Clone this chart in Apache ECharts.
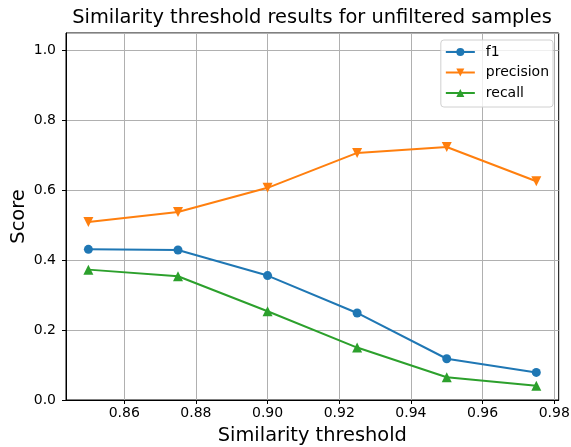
<!DOCTYPE html>
<html>
<head>
<meta charset="utf-8">
<script src="https://cdn.jsdelivr.net/npm/echarts@6/dist/echarts.min.js"></script>
<style>html,body{margin:0;padding:0;background:#fff;}#c{width:571px;height:447px;}</style>
</head>
<body>
<div id="c"></div>
<script>
const thresholds = [0.85, 0.875, 0.90, 0.925, 0.95, 0.975];
const f1 = [0.431, 0.429, 0.356, 0.249, 0.118, 0.079];
const precision = [0.509, 0.538, 0.607, 0.707, 0.724, 0.626];
const recall = [0.373, 0.354, 0.254, 0.150, 0.065, 0.041];
const xTicks = [0.86, 0.88, 0.90, 0.92, 0.94, 0.96, 0.98];
const yTicks = [0.0, 0.2, 0.4, 0.6, 0.8, 1.0];

const FONT = 'DejaVu Sans';
function pairs(ys){ return thresholds.map((x,i)=>[x, ys[i]]); }
function mk(name, ys, color, symbol, rotate){
  return {
    name, type:'line', data: pairs(ys), color,
    symbol, symbolSize: symbol==='circle'?9:10, symbolRotate: rotate||0,
    lineStyle:{width:2, color}, itemStyle:{color},
    emphasis:{disabled:true}, animation:false
  };
}
const chart = echarts.init(document.getElementById('c'), null, {renderer:'canvas'});
chart.setOption({
  animation:false,
  textStyle:{fontFamily:FONT},
  title:{text:'Similarity threshold results for unfiltered samples', left:312, textAlign:'center', top:8, padding:0,
    textStyle:{fontFamily:FONT, fontSize:19.4, fontWeight:'normal', color:'#000'}},
  grid:{left:66, right:12.3, top:33, bottom:47, containLabel:false, outerBoundsMode:'none',
    show:true, borderColor:'#000', borderWidth:1, backgroundColor:'transparent'},
  legend:{orient:'vertical', right:18, top:40, itemWidth:29, itemHeight:10, itemGap:6.5,
    padding:[5,4,7,4], borderColor:'#d0d0d0', borderWidth:1, borderRadius:3, backgroundColor:'rgba(255,255,255,0.8)',
    textStyle:{fontFamily:FONT, fontSize:14, color:'#000', padding:[0,0,0,6]},
    data:['f1','precision','recall']},
  xAxis:{type:'value', min:0.84375, max:0.98125,
    name:'Similarity threshold', nameLocation:'middle', nameGap:26, nameMoveOverlap:false,
    nameTextStyle:{fontFamily:FONT, fontSize:19.4, color:'#000'},
    axisLine:{show:true, onZero:false, lineStyle:{color:'#000', width:1}},
    axisTick:{show:true, length:4, customValues:xTicks, lineStyle:{color:'#000'}},
    axisLabel:{customValues:xTicks, margin:6, fontFamily:FONT, fontSize:14, color:'#000',
      formatter:v=>v.toFixed(2)},
    splitLine:{show:true, customValues:xTicks, lineStyle:{color:'#b0b0b0', width:1}}},
  yAxis:{type:'value', min:0, max:1.05, interval:0.2,
    name:'Score', nameLocation:'middle', nameGap:38, nameMoveOverlap:false,
    nameTextStyle:{fontFamily:FONT, fontSize:19.4, color:'#000'},
    axisLine:{show:true, lineStyle:{color:'#000', width:1}},
    axisTick:{show:true, length:4, lineStyle:{color:'#000'}},
    axisLabel:{margin:10, fontFamily:FONT, fontSize:14, color:'#000', showMaxLabel:false,
      formatter:v=>v.toFixed(1)},
    splitLine:{show:true, lineStyle:{color:'#b0b0b0', width:1}}},
  series:[
    mk('f1', f1, '#1f77b4', 'circle'),
    mk('precision', precision, '#ff7f0e', 'triangle', 180),
    mk('recall', recall, '#2ca02c', 'triangle')
  ]
});
</script>
</body>
</html>
